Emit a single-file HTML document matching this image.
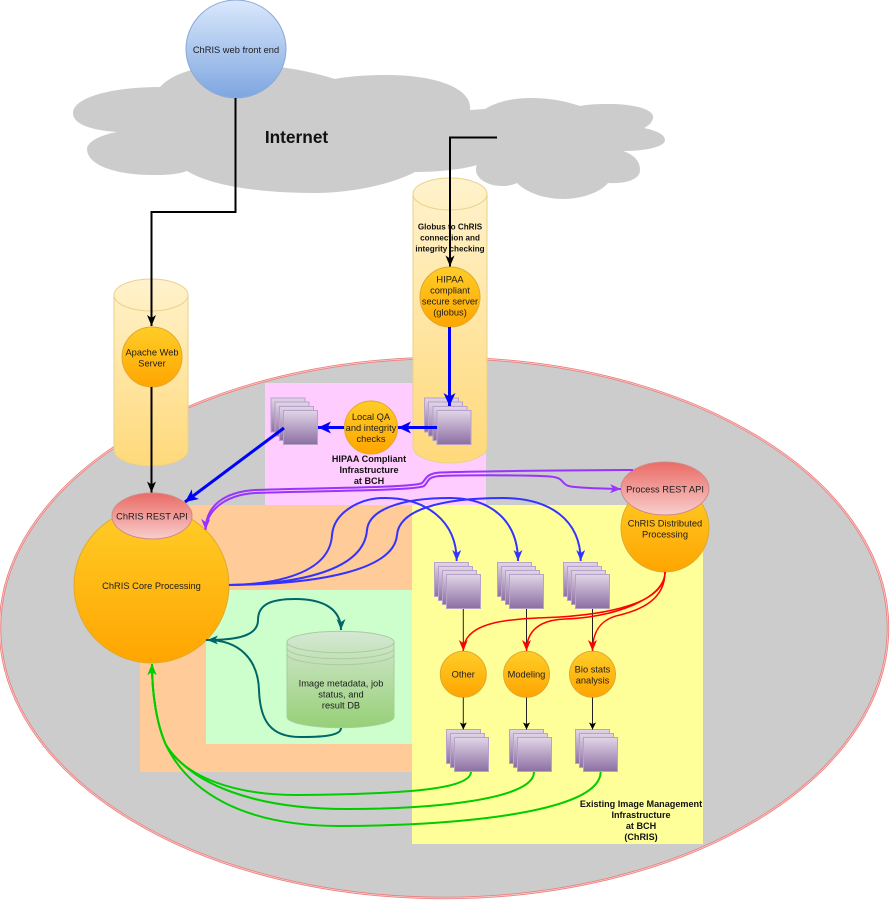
<!DOCTYPE html>
<html lang="en"><head><meta charset="utf-8"><title>ChRIS architecture</title>
<style>
html,body{margin:0;padding:0;background:#fff}
svg{display:block}
text{font-family:"Liberation Sans",sans-serif;font-size:9.3px;text-anchor:middle;fill:#1c1c1c}
.b{font-weight:bold;fill:#111;font-size:9.1px}
.c{fill:none}
</style></head><body>
<svg width="890" height="900" viewBox="0 0 890 900" xmlns="http://www.w3.org/2000/svg">
<defs>
<linearGradient id="o" x1="0" y1="0" x2="0" y2="1"><stop offset="0" stop-color="#ffcd28"/><stop offset="1" stop-color="#ffa500"/></linearGradient>
<linearGradient id="y" x1="0" y1="0" x2="0" y2="1"><stop offset="0" stop-color="#fff2cc"/><stop offset="1" stop-color="#ffd97a"/></linearGradient>
<linearGradient id="r" x1="0" y1="0" x2="0" y2="1"><stop offset="0" stop-color="#ea6b66"/><stop offset="1" stop-color="#f8cecc"/></linearGradient>
<linearGradient id="bl" x1="0" y1="0" x2="0" y2="1"><stop offset="0" stop-color="#dae8fc"/><stop offset="1" stop-color="#7ea6e0"/></linearGradient>
<linearGradient id="p" x1="0" y1="0" x2="0" y2="1"><stop offset="0" stop-color="#e1d5e7"/><stop offset="1" stop-color="#8c6fa3"/></linearGradient>
<linearGradient id="g" x1="0" y1="0" x2="0" y2="1"><stop offset="0" stop-color="#d5e8d4"/><stop offset="1" stop-color="#97d077"/></linearGradient>
<marker id="mk" markerUnits="userSpaceOnUse" markerWidth="12" markerHeight="10" refX="11" refY="5" orient="auto"><path d="M0,0.5 L11,5 L0,9.5 L3,5 Z" fill="#000"/></marker>
<marker id="mks" markerUnits="userSpaceOnUse" markerWidth="8" markerHeight="8" refX="7" refY="3.5" orient="auto"><path d="M0,0 L7,3.5 L0,7 L1.5,3.5 Z" fill="#000"/></marker>
<marker id="mb" markerUnits="userSpaceOnUse" markerWidth="14" markerHeight="13" refX="13" refY="6" orient="auto"><path d="M0,0 L13,6 L0,12 L3.5,6 Z" fill="#0000ff"/></marker>
<marker id="mbl" markerUnits="userSpaceOnUse" markerWidth="12" markerHeight="10" refX="11" refY="5" orient="auto"><path d="M0,0.5 L11,5 L0,9.5 L3,5 Z" fill="#3333ff"/></marker>
<marker id="mv" markerUnits="userSpaceOnUse" markerWidth="12" markerHeight="10" refX="11" refY="5" orient="auto"><path d="M0,0.5 L11,5 L0,9.5 L3,5 Z" fill="#9933ff"/></marker>
<marker id="mr" markerUnits="userSpaceOnUse" markerWidth="12" markerHeight="10" refX="11" refY="5" orient="auto"><path d="M0,0.5 L11,5 L0,9.5 L3,5 Z" fill="#ff0000"/></marker>
<marker id="mt" markerUnits="userSpaceOnUse" markerWidth="12" markerHeight="10" refX="11" refY="5" orient="auto"><path d="M0,0.5 L11,5 L0,9.5 L3,5 Z" fill="#006666"/></marker>
<marker id="mg" markerUnits="userSpaceOnUse" markerWidth="12" markerHeight="10" refX="11" refY="5" orient="auto"><path d="M0,0.5 L11,5 L0,9.5 L3,5 Z" fill="#00cc00"/></marker>
</defs>

<!-- cloud -->
<path fill="#cccccc" d="M73,113 C73,98 110,87 160,87 C170,76 190,68 215,66 C260,62 300,68 335,79 C350,76 370,75 387,75 C435,75 473,88 470,110 L485,109 C495,103 510,98 530,98 C550,98 565,101 580,106 C590,104 600,104 610,104 C635,104 655,110 653,118 C652,123 648,126 644,128 C658,131 665,135 665,140 C665,147 645,151 623,151 C635,155 640,162 640,170 C640,180 625,184 608,183 C600,193 580,199 563,199 C545,199 527,193 517,183 C510,186 505,186 502,186 C487,186 476,178 476,170 Q476,166 477,165 C460,170 435,172 415,172 C390,185 350,193 313,193 C270,193 215,188 187,171 C175,175 165,175 153,175 C115,175 87,165 87,149 C87,142 100,135 117,132 C90,130 73,124 73,113 Z"/>

<!-- big ellipse -->
<ellipse cx="444" cy="628" rx="444" ry="270" fill="#cccccc" stroke="#ec8080" stroke-width="2.500"/>
<ellipse cx="444" cy="628" rx="444" ry="270" fill="none" stroke="#f9d5d5" stroke-width="0.700"/>

<!-- zones -->
<rect x="265" y="383" width="221" height="122" fill="#ffccff"/>
<rect x="140" y="505" width="272" height="267" fill="#ffcc99"/>
<rect x="206" y="590" width="206" height="154" fill="#ccffcc"/>
<rect x="412" y="505" width="291" height="339" fill="#ffff99"/>

<!-- cylinders -->
<g stroke="#e8d28a" stroke-width="1">
<path d="M114,295 A37,16 0 0 1 188,295 V450 A37,16 0 0 1 114,450 Z" fill="url(#y)"/>
<path d="M114,295 A37,16 0 0 0 188,295" fill="none"/>
<path d="M413,194 A37,16 0 0 1 487,194 V447 A37,16 0 0 1 413,447 Z" fill="url(#y)"/>
<path d="M413,194 A37,16 0 0 0 487,194" fill="none"/>
</g>
<text class="b" style="font-size:8.100px" x="450" y="229.500">Globus to ChRIS</text>
<text class="b" style="font-size:8.100px" x="450" y="240.500">connection and</text>
<text class="b" style="font-size:8.100px" x="450" y="251.500">integrity checking</text>

<!-- web front end -->
<ellipse cx="236" cy="49" rx="50" ry="49" fill="url(#bl)" stroke="#8aa8d8" stroke-width="1"/>
<text x="236" y="53">ChRIS web front end</text>
<text class="b" style="font-size:17.300px" x="296.500" y="143">Internet</text>

<!-- stacks -->
<g fill="url(#p)" stroke="#b7a3c8" stroke-width="1">
<rect x="271" y="398" width="34" height="34"/><rect x="275" y="402" width="34" height="34"/><rect x="279.500" y="406.500" width="34" height="34"/><rect x="283.500" y="410.500" width="34" height="34"/>
<rect x="424.500" y="398" width="34" height="34"/><rect x="428.500" y="402" width="34" height="34"/><rect x="433" y="406.500" width="34" height="34"/><rect x="437" y="410.500" width="34" height="34"/>

<rect x="434.500" y="562.500" width="34" height="34"/><rect x="438.500" y="566.500" width="34" height="34"/><rect x="442.500" y="570.500" width="34" height="34"/><rect x="446.500" y="574.500" width="34" height="34"/>
<rect x="497.500" y="562.500" width="34" height="34"/><rect x="501.500" y="566.500" width="34" height="34"/><rect x="505.500" y="570.500" width="34" height="34"/><rect x="509.500" y="574.500" width="34" height="34"/>
<rect x="563.500" y="562.500" width="34" height="34"/><rect x="567.500" y="566.500" width="34" height="34"/><rect x="571.500" y="570.500" width="34" height="34"/><rect x="575.500" y="574.500" width="34" height="34"/>

<rect x="446.500" y="729.500" width="34" height="34"/><rect x="450.500" y="733.500" width="34" height="34"/><rect x="454.500" y="737.500" width="34" height="34"/>
<rect x="509.500" y="729.500" width="34" height="34"/><rect x="513.500" y="733.500" width="34" height="34"/><rect x="517.500" y="737.500" width="34" height="34"/>
<rect x="575.500" y="729.500" width="34" height="34"/><rect x="579.500" y="733.500" width="34" height="34"/><rect x="583.500" y="737.500" width="34" height="34"/>
</g>

<!-- DB -->
<g stroke="#a9cc9a" stroke-width="1">
<path d="M287,642 A53.500,10.700 0 0 1 394,642 V717 A53.500,10.700 0 0 1 287,717 Z" fill="url(#g)"/>
<path d="M287,642 A53.500,10.700 0 0 0 394,642 M287,648 A53.500,10.700 0 0 0 394,648 M287,654 A53.500,10.700 0 0 0 394,654" fill="none"/>
</g>
<text x="341" y="686.500">Image metadata, job</text>
<text x="341" y="697.500">status, and</text>
<text x="341" y="708.500">result DB</text>

<!-- nodes -->
<g fill="url(#o)" stroke="#e0a92c" stroke-width="1">
<circle cx="152" cy="357" r="30"/>
<circle cx="450" cy="297" r="30"/>
<circle cx="371" cy="427.500" r="26.500"/>
<circle cx="151.500" cy="585.500" r="77.500"/>
<circle cx="665" cy="528" r="44"/>
<circle cx="463.300" cy="674.300" r="23"/>
<circle cx="526.500" cy="674.300" r="23"/>
<circle cx="592.500" cy="674.300" r="23"/>
</g>
<g fill="url(#r)" stroke="#d08a86" stroke-width="1">
<ellipse cx="152" cy="516" rx="40" ry="23"/>
<ellipse cx="665" cy="488.500" rx="44" ry="26.500"/>
</g>

<text x="152" y="355.500">Apache Web</text><text x="152" y="366.500">Server</text>
<text x="450" y="282.300">HIPAA</text><text x="450" y="293.300">compliant</text><text x="450" y="304.300">secure server</text><text x="450" y="315.300">(globus)</text>
<text x="371" y="420">Local QA</text><text x="371" y="431">and integrity</text><text x="371" y="442">checks</text>
<text x="152" y="519.500">ChRIS REST API</text>
<text x="665" y="492.300">Process REST API</text>
<text x="665" y="526.500">ChRIS Distributed</text><text x="665" y="537.500">Processing</text>
<text x="151.500" y="589">ChRIS Core Processing</text>
<text x="463.300" y="677.500">Other</text>
<text x="526.500" y="677.500">Modeling</text>
<text x="592.500" y="672.500">Bio stats</text><text x="592.500" y="683.500">analysis</text>

<text class="b" x="369" y="462">HIPAA Compliant</text><text class="b" x="369" y="473">Infrastructure</text><text class="b" x="369" y="484">at BCH</text>
<text class="b" x="641" y="807">Existing Image Management</text><text class="b" x="641" y="818">Infrastructure</text><text class="b" x="641" y="829">at BCH</text><text class="b" x="641" y="840">(ChRIS)</text>

<!-- connectors -->
<g class="c" fill="none">
<g stroke="#000" stroke-width="2">
<path d="M235.500,98 V212 H151.500 V326" marker-end="url(#mk)"/>
<path d="M151.500,387 V492.500" marker-end="url(#mk)"/>
<path d="M497,137.500 H450 V266.500" marker-end="url(#mk)"/>
</g>
<g stroke="#222" stroke-width="1">
<path d="M463.300,609 V651"/><path d="M526.500,609 V651"/><path d="M592.500,609 V651"/>
<path d="M463.300,697.500 V729.500" marker-end="url(#mks)"/><path d="M526.500,697.500 V729.500" marker-end="url(#mks)"/><path d="M592.500,697.500 V729.500" marker-end="url(#mks)"/>
</g>
<g stroke="#0000ff" stroke-width="3">
<path d="M449.500,327 V406" marker-end="url(#mb)"/>
<path d="M437,427.500 H398" marker-end="url(#mb)"/>
<path d="M344,427.500 H318" marker-end="url(#mb)"/>
<path d="M284,428 L185,502" marker-end="url(#mb)"/>
</g>
<g stroke="#9933ff" stroke-width="2">
<path d="M633,470 C560,470.500 480,471 440,472.500 C425,473.500 426,480 422,483 C415,488 300,488 255,490 C225,492 206,505 205.500,530" marker-end="url(#mv)"/>
<path d="M205.500,530 C207,510 225,495 255,493 C300,491 415,491 424,486 C429,482 426,477 440,476 C470,475 530,475 550,476.500 C568,478 558,486 575,487 C590,488.500 605,488.500 621,489" marker-end="url(#mv)"/>
</g>
<g stroke="#3333ff" stroke-width="2">
<path d="M229,585 C285,584 330,570 332,535 C334,512 360,498 385,498 C425,498 456.700,520 456.700,561" marker-end="url(#mbl)"/>
<path d="M229,585 C300,584 364,570 367,530 C369,510 400,498 450,498 C490,498 518,520 518,561" marker-end="url(#mbl)"/>
<path d="M229,585 C320,584 394,570 397,535 C399,510 440,498 503,498 C550,498 580.700,520 580.700,561" marker-end="url(#mbl)"/>
</g>
<g stroke="#ff0000" stroke-width="1.500">
<path d="M665,572 C665,600 620,613 560,617 C520,619 463.300,618 463.300,651" marker-end="url(#mr)"/>
<path d="M665,572 C665,600 610,618 565,619 C540,620 526.500,630 526.500,651" marker-end="url(#mr)"/>
<path d="M665,572 C665,600 640,610 620,615 C600,619 592.500,632 592.500,651" marker-end="url(#mr)"/>
</g>
<g stroke="#006666" stroke-width="2">
<path d="M206,640 C240,640 258,635 258,620 C258,605 270,599 295,599 C325,599 341,610 341,630" marker-end="url(#mt)"/>
<path d="M341,728 C341,737 315,737 300,737 C270,737 260,720 259,690 C258,660 240,640 207,640" marker-end="url(#mt)"/>
</g>
<g stroke="#00cc00" stroke-width="2">
<path d="M471,772 C470,790 400,794 297,795 C235,795 186,778 166,745 C157,725 152,695 152,664" marker-end="url(#mg)"/>
<path d="M534,772 C534,800 430,809 347,809 C255,809 192,785 166,745 C157,725 152,695 152,664" marker-end="url(#mg)"/>
<path d="M600.700,772 C600,815 440,826 340,826 C240,826 188,790 166,745 C157,725 152,695 152,664" marker-end="url(#mg)"/>
</g>
</g>
</svg>
</body></html>
